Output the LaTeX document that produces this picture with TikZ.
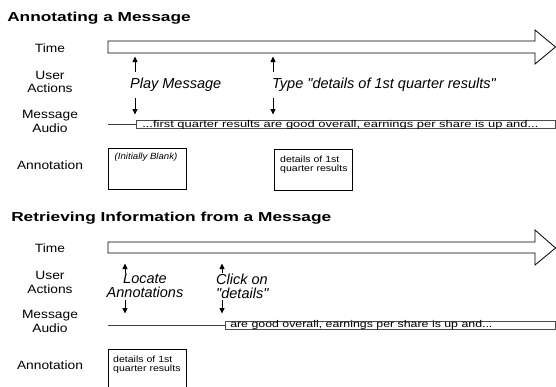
\documentclass[tikz,border=0pt]{standalone}
\usepackage{fontspec}
\setmainfont{Liberation Sans}
\usetikzlibrary{arrows.meta}

\tikzset{
  heading/.style={font=\bfseries\fontsize{13}{15}\selectfont, anchor=west, inner sep=0pt, xscale=1.33},
  rowlabel/.style={font=\fontsize{12}{13.5}\selectfont, align=center, inner sep=0pt, xscale=1.15},
  action/.style={font=\itshape\fontsize{14.5}{14}\selectfont, inner sep=0pt},
  audiotext/.style={font=\fontsize{9.8}{10}\selectfont, anchor=base west, inner sep=0pt},
  notebox/.style={draw, line width=0.8pt},
  notetext/.style={font=\fontsize{9}{9}\selectfont, align=left, anchor=north west, inner sep=0pt, xscale=1.17},
  timebar/.style={draw, line width=0.8pt, fill=white},
  audioline/.style={line width=0.8pt, draw=black!75},
  audiobox/.style={draw=black!70, line width=0.8pt},
  tick/.style={line width=0.8pt, -{Triangle[length=5.5pt,width=5pt]}},
}

\begin{document}
\begin{tikzpicture}[x=1pt, y=-1pt]
\clip (0,0) rectangle (556,386);
\fill[white] (0,0) rectangle (556,386);

% ---------------- Annotating a Message ----------------
\node[heading] (t1) at (7,18) {Annotating a Message};

\node[rowlabel] (time1) at (50,48) {Time};
\node[rowlabel] (user1) at (50,82) {User\\Actions};
\node[rowlabel] (audio1) at (50,121.5) {Message\\Audio};
\node[rowlabel] (ann1) at (50,165) {Annotation};

% time arrow
\draw[timebar] (108,41) -- (535,41) -- (535,30) -- (555.5,47) -- (535,64) -- (535,53) -- (108,53) -- cycle;

% user actions
\coordinate (a1up) at (135,72);  \coordinate (a1top) at (135,56.5);
\coordinate (a1dn) at (135,98);  \coordinate (a1bot) at (135,114.5);
\coordinate (a2up) at (273,72);  \coordinate (a2top) at (273,56.5);
\coordinate (a2dn) at (273,98);  \coordinate (a2bot) at (273,114.5);
\draw[tick] (a1up) -- (a1top);
\draw[tick] (a1dn) -- (a1bot);
\draw[tick] (a2up) -- (a2top);
\draw[tick] (a2dn) -- (a2bot);
\node[action, anchor=west] (play) at (130,85) {Play Message};
\node[action, anchor=west] (type) at (272,85) {Type \textquotedbl details of 1st quarter results\textquotedbl};

% message audio
\coordinate (l1s) at (108,124.5);
\coordinate (l1e) at (136.5,124.5);
\draw[audioline] (l1s) -- (l1e);
\draw[audiobox] (136.5,120.5) rectangle (555.5,128.5);
\node[audiotext, xscale=1.32] (msg1) at (142,127) {...first quarter results are good overall, earnings per share is up and...};

% annotation boxes
\draw[notebox] (108,148) rectangle (186,189);
\node[notetext, xscale=0.915, font=\itshape\fontsize{9}{9}\selectfont] (blank) at (114.5,153) {(Initially Blank)};
\draw[notebox] (274,149) rectangle (352,190);
\node[notetext] (note1) at (280,156) {details of 1st\\quarter results};

% ---------------- Retrieving Information from a Message ----------------
\node[heading] (t2) at (11,218) {Retrieving Information from a Message};

\node[rowlabel] (time2) at (50,248) {Time};
\node[rowlabel] (user2) at (50,282.5) {User\\Actions};
\node[rowlabel] (audio2) at (50,321.5) {Message\\Audio};
\node[rowlabel] (ann2) at (50,365) {Annotation};

\draw[timebar] (108,242) -- (535,242) -- (535,230) -- (555.5,248) -- (535,265) -- (535,253) -- (108,253) -- cycle;

\coordinate (b1up) at (125,273);  \coordinate (b1top) at (125,263.5);
\coordinate (b1dn) at (125,300);  \coordinate (b1bot) at (125,313.5);
\coordinate (b2up) at (222,273);  \coordinate (b2top) at (222,263.5);
\coordinate (b2dn) at (222,300);  \coordinate (b2bot) at (222,313.5);
\draw[tick] (b1up) -- (b1top);
\draw[tick] (b1dn) -- (b1bot);
\draw[tick] (b2up) -- (b2top);
\draw[tick] (b2dn) -- (b2bot);
\node[action, align=center] (locate) at (145,286) {Locate\\Annotations};
\node[action, align=left, anchor=west] (click) at (216,286) {Click on\\\textquotedbl details\textquotedbl};

\coordinate (l2s) at (108,325);
\coordinate (l2e) at (225,325);
\draw[audioline] (l2s) -- (l2e);
\draw[audiobox] (225,321) rectangle (555.5,329);
\node[audiotext, xscale=1.26] (msg2) at (230,327.5) {are good overall, earnings per share is up and...};

\draw[notebox] (108,395) -- (108,349) -- (186,349) -- (186,395);
\node[notetext] (note2) at (113,355.5) {details of 1st\\quarter results};
\end{tikzpicture}
\end{document}
